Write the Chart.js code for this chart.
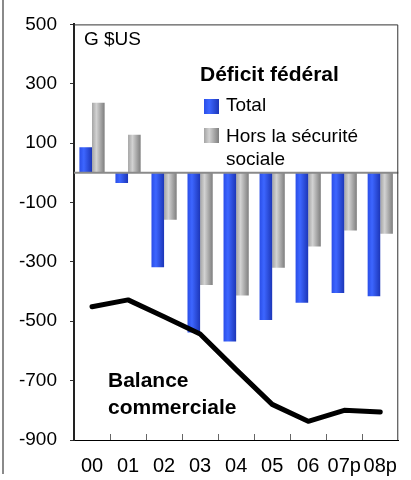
<!DOCTYPE html>
<html>
<head>
<meta charset="utf-8">
<script src="https://cdn.jsdelivr.net/npm/chart.js@4/dist/chart.umd.min.js"></script>
<style>
html,body{margin:0;padding:0;background:#fff;}
#wrap{width:411px;height:480px;position:relative;}
</style>
</head>
<body>
<div id="wrap"><canvas id="c" width="411" height="480"></canvas></div>
<script>
// ---- data ----
const categories = ['00','01','02','03','04','05','06','07p','08p'];
const deficitTotal = [86, -34, -318, -538, -568, -496, -438, -405, -416];
const deficitHorsSecu = [236, 128, -158, -378, -413, -320, -248, -194, -205];
const balanceCommerciale = [-451, -428, -485, -543, -663, -780, -837, -800, -806];
const yTickLabels = [500, 300, 100, -100, -300, -500, -700, -900];
const unitLabel = 'G $US';
const legendTitle = 'Déficit fédéral';
const legendItems = ['Total', 'Hors la sécurité|sociale'];
const lineLabel = ['Balance', 'commerciale'];

const FONT = '"Liberation Sans", Arial, sans-serif';
const CAT_PCT = 0.7;

const palettes = [
  {dark:'#1c36b8', light:'#3d66ff', mid:'#2a4ee8', solid:'#2f55f0'},
  {dark:'#7e7e7e', light:'#d2d2d2', mid:'#a4a4a4', solid:'#a8a8a8'}
];

function makeGrad(g, left, w, p) {
  const gr = g.createLinearGradient(left, 0, left + w, 0);
  gr.addColorStop(0, p.mid);
  gr.addColorStop(0.35, p.light);
  gr.addColorStop(1, p.dark);
  return gr;
}

function barFill(ctx) {
  const p = palettes[ctx.datasetIndex] || palettes[0];
  const chart = ctx.chart;
  const x = chart.scales && chart.scales.x;
  if (!x || ctx.dataIndex === undefined) return p.solid;
  const c = x.getPixelForValue(ctx.dataIndex);
  const w = x.width / categories.length * CAT_PCT / 2;
  if (!isFinite(c) || !isFinite(w) || w <= 0) return p.solid;
  const left = ctx.datasetIndex === 0 ? c - w : c;
  return makeGrad(chart.ctx, left, w, p);
}

const decor = {
  id: 'decor',
  afterDatasetsDraw(chart) {
    const g = chart.ctx, a = chart.chartArea, y = chart.scales.y;
    g.save();
    const y0 = y.getPixelForValue(0);
    g.strokeStyle = '#8a8a8a';
    g.lineWidth = 2;
    g.beginPath(); g.moveTo(a.left, y0); g.lineTo(a.right, y0); g.stroke();
    g.restore();
  },
  afterDraw(chart) {
    const g = chart.ctx, a = chart.chartArea, x = chart.scales.x;
    g.save();
    g.strokeStyle = '#333';
    g.lineWidth = 1;
    g.beginPath();
    g.moveTo(a.left, a.top + 0.5); g.lineTo(a.right - 0.5, a.top + 0.5); g.lineTo(a.right - 0.5, a.bottom);
    g.stroke();
    const cw = x.width / categories.length;
    g.strokeStyle = '#666';
    g.lineWidth = 1;
    for (let i = 1; i < categories.length; i++) {
      const bx = Math.round(a.left + cw * i) + 0.5;
      g.beginPath(); g.moveTo(bx, a.bottom); g.lineTo(bx, a.bottom - 6); g.stroke();
    }
    g.strokeStyle = '#8a8a8a';
    g.lineWidth = 2;
    g.beginPath(); g.moveTo(3, 0); g.lineTo(3, 474); g.stroke();

    g.fillStyle = '#000';
    g.textBaseline = 'middle';
    g.textAlign = 'left';
    g.font = '19px ' + FONT;
    g.fillText(unitLabel, 84, 40);
    g.font = 'bold 21px ' + FONT;
    g.fillText(legendTitle, 200, 75);
    const sq = [[204, 99], [204, 128]];
    for (let i = 0; i < 2; i++) {
      g.fillStyle = makeGrad(g, sq[i][0], 15, palettes[i]);
      g.fillRect(sq[i][0], sq[i][1], 15, 15);
    }
    g.fillStyle = '#000';
    g.font = '19px ' + FONT;
    g.fillText(legendItems[0], 226, 106);
    const parts = legendItems[1].split('|');
    g.fillText(parts[0], 226, 137);
    g.fillText(parts[1], 226, 160);
    g.font = 'bold 21px ' + FONT;
    g.fillText(lineLabel[0], 108, 381);
    g.fillText(lineLabel[1], 108, 408);
    g.restore();
  }
};

new Chart(document.getElementById('c'), {
  type: 'bar',
  data: {
    labels: categories,
    datasets: [
      {label: 'Total', data: deficitTotal, backgroundColor: barFill, borderWidth: 0,
       categoryPercentage: CAT_PCT, barPercentage: 1.0, order: 2},
      {label: 'Hors la sécurité sociale', data: deficitHorsSecu, backgroundColor: barFill, borderWidth: 0,
       categoryPercentage: CAT_PCT, barPercentage: 1.0, order: 2},
      {type: 'line', label: 'Balance commerciale', data: balanceCommerciale, borderColor: '#000',
       backgroundColor: '#000', borderWidth: 5, pointRadius: 0, tension: 0, fill: false,
       borderJoinStyle: 'round', borderCapStyle: 'round', order: 1}
    ]
  },
  options: {
    responsive: false,
    animation: false,
    devicePixelRatio: 1,
    layout: {padding: {top: 19, right: 1, left: 0, bottom: 0}},
    plugins: {legend: {display: false}, tooltip: {enabled: false}, title: {display: false}},
    scales: {
      x: {
        grid: {display: true, drawOnChartArea: false, drawTicks: false},
        border: {color: '#000', width: 1},
        ticks: {color: '#000', font: {family: FONT, size: 20}, padding: 14, maxRotation: 0, autoSkip: false},
        afterFit(s) { s.height = 40; }
      },
      y: {
        min: -900, max: 500,
        afterBuildTicks(s) { s.ticks = yTickLabels.map(v => ({value: v})); },
        grid: {drawOnChartArea: false, drawTicks: true, tickLength: 4, tickColor: '#333'},
        border: {color: '#222', width: 2},
        ticks: {color: '#000', font: {family: FONT, size: 19}, padding: 13},
        afterFit(s) { s.width = 74; }
      }
    }
  },
  plugins: [decor]
});
</script>
</body>
</html>
